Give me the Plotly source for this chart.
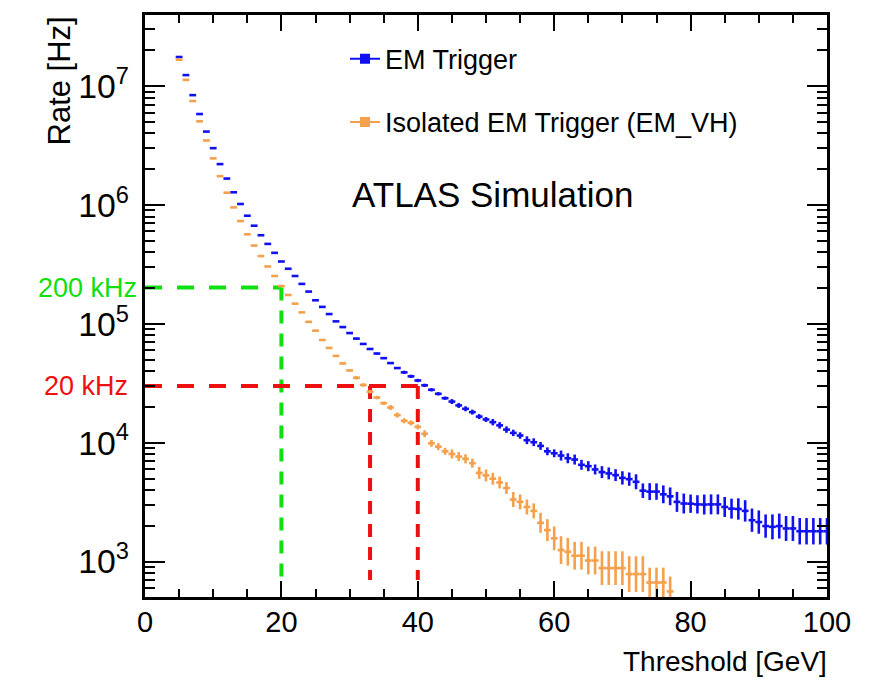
import numpy as np
import plotly.graph_objects as go

# ---------------- data ----------------
thr_em = list(range(5, 101))
rate_em = [1.76e7, 1.24e7, 8.41e6, 5.83e6, 4.15e6, 3.01e6, 2.21e6, 1.67e6, 1.28e6, 1.02e6,
           8.13e5, 6.70e5, 5.57e5, 4.71e5, 3.96e5, 3.35e5, 2.91e5, 2.53e5, 2.17e5, 1.87e5,
           1.58e5, 1.39e5, 1.21e5, 1.05e5, 9.40e4, 8.37e4, 7.52e4, 6.78e4, 6.15e4, 5.63e4,
           5.15e4, 4.68e4, 4.25e4, 3.91e4, 3.62e4, 3.34e4, 3.04e4, 2.79e4, 2.58e4, 2.37e4,
           2.22e4, 2.06e4, 1.93e4, 1.81e4, 1.66e4, 1.57e4, 1.49e4, 1.40e4, 1.29e4, 1.21e4,
           1.15e4, 1.05e4, 1.01e4, 9.40e3, 8.47e3, 8.15e3, 7.80e3, 7.40e3, 7.22e3, 6.52e3,
           6.35e3, 5.96e3, 5.66e3, 5.52e3, 5.34e3, 5.06e3, 4.94e3, 4.69e3, 3.95e3, 3.88e3,
           3.88e3, 3.68e3, 3.54e3, 3.18e3, 3.08e3, 3.07e3, 3.03e3, 3.02e3, 3.03e3, 3.03e3,
           2.88e3, 2.79e3, 2.77e3, 2.67e3, 2.23e3, 2.15e3, 1.99e3, 1.96e3, 1.99e3, 1.90e3,
           1.90e3, 1.80e3, 1.80e3, 1.80e3, 1.80e3, 1.80e3]
# half length of the vertical error bars, in decades
err_em_dex = [0.004] * 26 + [0.008] * 7 + [0.014] * 7 + [0.021] * 6 + [0.027] * 5 + \
             [0.033] * 5 + [0.042] * 6 + [0.050] * 3 + \
             [0.056, 0.056, 0.063, 0.061, 0.071, 0.069, 0.075, 0.075, 0.084, 0.084,
              0.077, 0.077, 0.084, 0.084, 0.084, 0.084, 0.084, 0.090, 0.090, 0.098,
              0.098, 0.098, 0.105, 0.105, 0.105, 0.105, 0.111, 0.111, 0.111, 0.111, 0.111]

thr_iso = list(range(5, 78))
rate_iso = [1.67e7, 1.13e7, 7.50e6, 5.06e6, 3.49e6, 2.47e6, 1.75e6, 1.27e6, 9.55e5, 7.33e5,
            5.67e5, 4.56e5, 3.72e5, 3.04e5, 2.53e5, 2.08e5, 1.75e5, 1.48e5, 1.25e5, 1.04e5,
            8.77e4, 7.32e4, 6.28e4, 5.38e4, 4.65e4, 4.06e4, 3.52e4, 3.06e4, 2.69e4, 2.40e4,
            2.15e4, 1.98e4, 1.71e4, 1.53e4, 1.47e4, 1.36e4, 1.19e4, 9.89e3, 9.27e3, 8.47e3,
            8.05e3, 7.65e3, 7.32e3, 6.73e3, 5.58e3, 5.31e3, 4.98e3, 4.63e3, 4.16e3, 3.33e3,
            3.18e3, 2.88e3, 2.67e3, 2.12e3, 1.84e3, 1.57e3, 1.25e3, 1.21e3, 1.12e3, 1.12e3,
            1.02e3, 1.02e3, 881, 881, 881, 881, 785, 785, 785, 667,
            667, 667, 561]
err_iso_dex = [0.004] * 21 + [0.008] * 5 + [0.015] * 5 + [0.021] * 5 + [0.029] * 4 + \
              [0.038] * 4 + [0.050] * 5 + [0.063] * 4 + [0.084, 0.092, 0.100] + \
              [0.117] * 6 + [0.142] * 4 + [0.150] * 3 + [0.125] * 4

bin_halfwidth = 0.5

# threshold guide lines
rate_200k = 2.02e5
rate_20k = 3.0e4
thr_200k = [20]
thr_20k = [33, 40]
guide_floor = 700

x_ticks = [0, 20, 40, 60, 80, 100]

BLUE = "#1010f0"
ORANGE = "#f5a04c"
GREEN = "#10e010"
RED = "#ee1010"
FONT = "Liberation Sans, Arial, sans-serif"


def asym(rates, dex):
    r = np.array(rates)
    d = np.array(dex)
    return r * (10 ** d - 1), r * (1 - 10 ** (-d))


fig = go.Figure()

# guide lines
fig.add_trace(go.Scatter(x=[0, thr_200k[0]], y=[rate_200k, rate_200k], mode="lines",
                         line=dict(color=GREEN, width=4, dash="17px,15px"),
                         showlegend=False, hoverinfo="skip"))
fig.add_trace(go.Scatter(x=[thr_200k[0], thr_200k[0]], y=[rate_200k, guide_floor], mode="lines",
                         line=dict(color=GREEN, width=4, dash="13px,10px"),
                         showlegend=False, hoverinfo="skip"))
fig.add_trace(go.Scatter(x=[0, max(thr_20k)], y=[rate_20k, rate_20k], mode="lines",
                         line=dict(color=RED, width=4, dash="17px,15px"),
                         showlegend=False, hoverinfo="skip"))
for t in thr_20k:
    fig.add_trace(go.Scatter(x=[t, t], y=[rate_20k, guide_floor], mode="lines",
                             line=dict(color=RED, width=4, dash="13px,10px"),
                             showlegend=False, hoverinfo="skip"))

# data
for thr, rate, dex, col in [(thr_em, rate_em, err_em_dex, BLUE),
                            (thr_iso, rate_iso, err_iso_dex, ORANGE)]:
    up, dn = asym(rate, dex)
    fig.add_trace(go.Scatter(
        x=thr, y=rate, mode="markers",
        marker=dict(size=1, color=col),
        error_x=dict(type="constant", value=bin_halfwidth, width=0, thickness=2.6, color=col),
        error_y=dict(type="data", array=up, arrayminus=dn, symmetric=False,
                     width=0, thickness=2.6, color=col),
        showlegend=False))

# legend entries
fig.add_trace(go.Scatter(x=[None], y=[None], mode="lines+markers", name="EM Trigger",
                         line=dict(color=BLUE, width=2),
                         marker=dict(symbol="square", size=10, color=BLUE),
                         legendgroup="a"))
fig.add_trace(go.Scatter(x=[None], y=[None], mode="lines+markers",
                         name="Isolated EM Trigger (EM_VH)",
                         line=dict(color=ORANGE, width=2),
                         marker=dict(symbol="square", size=10, color=ORANGE),
                         legendgroup="b"))

axis_common = dict(showline=True, linecolor="black", linewidth=2.5, mirror="allticks",
                   ticks="inside", tickcolor="black", tickwidth=2,
                   showgrid=False, zeroline=False)

fig.update_xaxes(range=[0, 100], tickvals=x_ticks, ticklen=16,
                 minor=dict(dtick=5, ticks="inside", ticklen=8, tickwidth=2, tickcolor="black"),
                 ticklabelstandoff=-3,
                 tickfont=dict(family=FONT, size=29, color="black"), **axis_common)
fig.update_yaxes(type="log", range=[2.702, 7.599], dtick=1, exponentformat="power",
                 ticklen=20,
                 minor=dict(dtick="D1", ticks="inside", ticklen=10, tickwidth=2,
                            tickcolor="black"),
                 ticklabelstandoff=8,
                 tickfont=dict(family=FONT, size=27, color="black"), **axis_common)

fig.update_layout(
    width=870, height=681,
    margin=dict(l=145, r=43, t=12, b=84),
    paper_bgcolor="white", plot_bgcolor="white",
    font=dict(family=FONT, color="black"),
    legend=dict(x=(345 - 145) / 682, y=0.966, xanchor="left", yanchor="top",
                font=dict(family=FONT, size=27, color="black"),
                bgcolor="rgba(0,0,0,0)", tracegroupgap=25, traceorder="grouped"),
    annotations=[
        dict(text="ATLAS Simulation", xref="paper", yref="paper",
             x=(350 - 145) / 682, y=1 - (193 - 12) / 585.6, xanchor="left", yanchor="middle",
             showarrow=False, font=dict(family=FONT, size=35, color="black")),
        dict(text="Rate [Hz]", xref="paper", yref="paper", textangle=-90,
             x=(59 - 145) / 682, y=1.0, xanchor="center", yanchor="top",
             showarrow=False, font=dict(family=FONT, size=31, color="black")),
        dict(text="Threshold [GeV]", xref="paper", yref="paper",
             x=1.003, y=-(662 - 597) / 585.6, xanchor="right", yanchor="middle",
             showarrow=False, font=dict(family=FONT, size=28, color="black")),
        dict(text="200 kHz", xref="paper", yref="y",
             x=-(145 - 139) / 682, y=np.log10(rate_200k), xanchor="right", yanchor="middle",
             showarrow=False, font=dict(family=FONT, size=27, color=GREEN)),
        dict(text="20 kHz", xref="paper", yref="y",
             x=-(145 - 130) / 682, y=np.log10(rate_20k), xanchor="right", yanchor="middle",
             showarrow=False, font=dict(family=FONT, size=27, color=RED)),
    ],
)

fig.write_html("out.html")
